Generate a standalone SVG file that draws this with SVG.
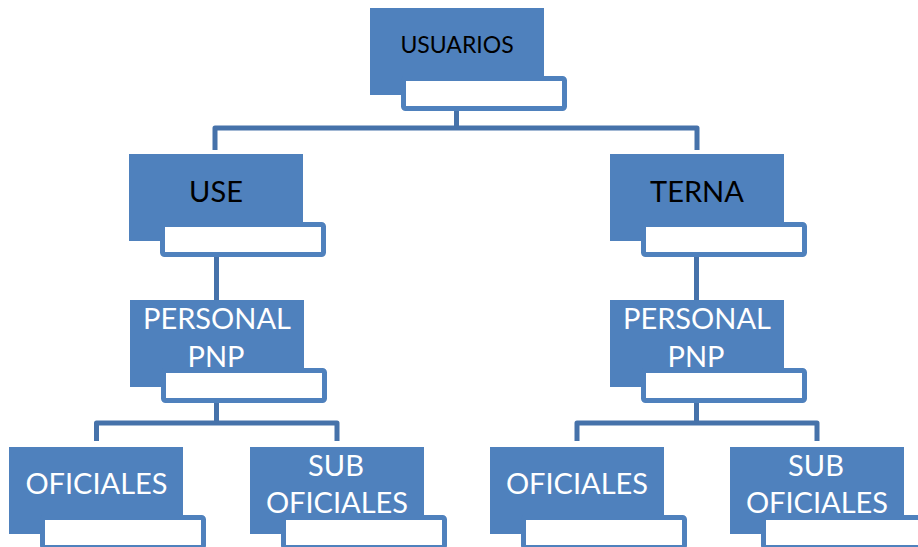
<svg xmlns="http://www.w3.org/2000/svg" width="918" height="547" viewBox="0 0 918 547">
<style>
.blue{fill:#4F81BD}
.tab{fill:#FFFFFF;stroke:#4F81BD;stroke-width:5}
.conn{fill:none;stroke:#4672AA;stroke-width:5;stroke-linejoin:round}
.t{font-family:Lato,"Liberation Sans",sans-serif;text-anchor:middle}
.dark{fill:#000000}
.light{fill:#FFFFFF}
</style>
<rect width="918" height="547" fill="#FFFFFF"/>
<g id="connectors">
<path class="conn" d="M456.5,110 V128 M215,150 V128 H697 V150"/>
<path class="conn" d="M216.5,257 V300"/>
<path class="conn" d="M696.5,257 V300"/>
<path class="conn" d="M216.5,403 V423 M96.5,441 V423 H337 V441"/>
<path class="conn" d="M696.5,403 V423 M577,441 V423 H817 V441"/>
</g>
<g id="usuarios">
<rect class="blue" x="370" y="8" width="174" height="87"/>
<rect class="tab" x="403.5" y="78.5" width="161" height="30" rx="2"/>
<text class="t dark" x="457" y="53" font-size="23">USUARIOS</text>
</g>
<g id="use">
<rect class="blue" x="129" y="154" width="174" height="87"/>
<rect class="tab" x="162.5" y="224.5" width="161" height="30" rx="2"/>
<text class="t dark" x="216" y="202" font-size="29">USE</text>
</g>
<g id="terna">
<rect class="blue" x="610" y="154" width="174" height="87"/>
<rect class="tab" x="643.5" y="224.5" width="161" height="30" rx="2"/>
<text class="t dark" x="697" y="202" font-size="29">TERNA</text>
</g>
<g id="personal-use">
<rect class="blue" x="130" y="300" width="174" height="87"/>
<rect class="tab" x="163.5" y="370.5" width="161" height="30" rx="2"/>
<text class="t light" x="217" y="329" font-size="29">PERSONAL</text>
<text class="t light" x="216" y="367" font-size="29">PNP</text>
</g>
<g id="personal-terna">
<rect class="blue" x="610" y="300" width="174" height="87"/>
<rect class="tab" x="643.5" y="370.5" width="161" height="30" rx="2"/>
<text class="t light" x="697" y="329" font-size="29">PERSONAL</text>
<text class="t light" x="696" y="367" font-size="29">PNP</text>
</g>
<g id="oficiales-use">
<rect class="blue" x="9" y="447" width="174" height="87"/>
<rect class="tab" x="42.5" y="517.5" width="161" height="30" rx="2"/>
<text class="t light" x="96.5" y="494" font-size="29">OFICIALES</text>
</g>
<g id="suboficiales-use">
<rect class="blue" x="250" y="447" width="174" height="87"/>
<rect class="tab" x="283.5" y="517.5" width="161" height="30" rx="2"/>
<text class="t light" x="336" y="476" font-size="29">SUB</text>
<text class="t light" x="337" y="513" font-size="29">OFICIALES</text>
</g>
<g id="oficiales-terna">
<rect class="blue" x="490" y="447" width="174" height="87"/>
<rect class="tab" x="523.5" y="517.5" width="161" height="30" rx="2"/>
<text class="t light" x="577" y="494" font-size="29">OFICIALES</text>
</g>
<g id="suboficiales-terna">
<rect class="blue" x="730" y="447" width="174" height="87"/>
<rect class="tab" x="763.5" y="517.5" width="161" height="30" rx="2"/>
<text class="t light" x="816" y="476" font-size="29">SUB</text>
<text class="t light" x="817" y="513" font-size="29">OFICIALES</text>
</g>
</svg>
